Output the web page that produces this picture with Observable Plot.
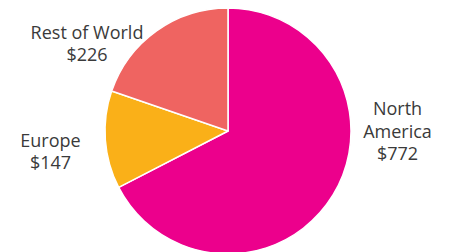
<!DOCTYPE html>
<html>
<head>
<meta charset="utf-8">
<script src="https://cdn.jsdelivr.net/npm/d3@7"></script>
<script src="https://cdn.jsdelivr.net/npm/@observablehq/plot@0.6"></script>
<style>
  html, body { margin: 0; padding: 0; background: #fff; }
  #chart svg { display: block; }
</style>
</head>
<body>
<div id="chart"></div>
<script>
// Data
const regions = ["North America", "Europe", "Rest of World"];
const values = [772, 147, 226];
const valueLabels = ["$772", "$147", "$226"];
const labelNames = ["North\nAmerica", "Europe", "Rest of World"];
const colors = ["#EC008C", "#FAB018", "#EF6461"];

// Layout (pixels, relative to pie center; y up)
const W = 449, H = 252;
const cx = 228, cy = 131, R = 123;
const labelDX = [169, -178, -141.5];
const labelDY = [1, -19.5, 88.5];

const data = regions.map((r, i) => ({
  region: r, value: values[i], label: labelNames[i] + "\n" + valueLabels[i],
  lx: labelDX[i], ly: labelDY[i]
}));

const arcs = d3.pie().sort(null).value(d => d.value)(data);

const pieMark = (index, scales) => {
  const x0 = scales.x(0), y0 = scales.y(0);
  const r = scales.x(R) - scales.x(0);
  const arc = d3.arc().innerRadius(0).outerRadius(r);
  const g = d3.create("svg:g").attr("transform", `translate(${x0},${y0})`);
  g.selectAll("path").data(arcs).join("path")
    .attr("d", arc)
    .attr("fill", d => scales.color(d.data.region))
    .attr("stroke", "#fff")
    .attr("stroke-width", 1.5)
    .attr("stroke-linejoin", "round");
  return g.node();
};

const chart = Plot.plot({
  width: W, height: H,
  margin: 0,
  x: {domain: [-cx, W - cx], axis: null},
  y: {domain: [-(H - cy), cy], axis: null},
  color: {domain: regions, range: colors},
  style: {fontFamily: "'Open Sans', sans-serif", background: "#fff"},
  marks: [
    Plot.dot(data, {x: () => 0, y: () => 0, fill: "region", r: 0}),
    pieMark,
    Plot.text(data, {
      x: "lx", y: "ly", text: "label",
      fontSize: 18, lineHeight: 1.25, fill: "#3a3a3a", textAnchor: "middle"
    })
  ]
});
document.getElementById("chart").append(chart);
</script>
</body>
</html>
